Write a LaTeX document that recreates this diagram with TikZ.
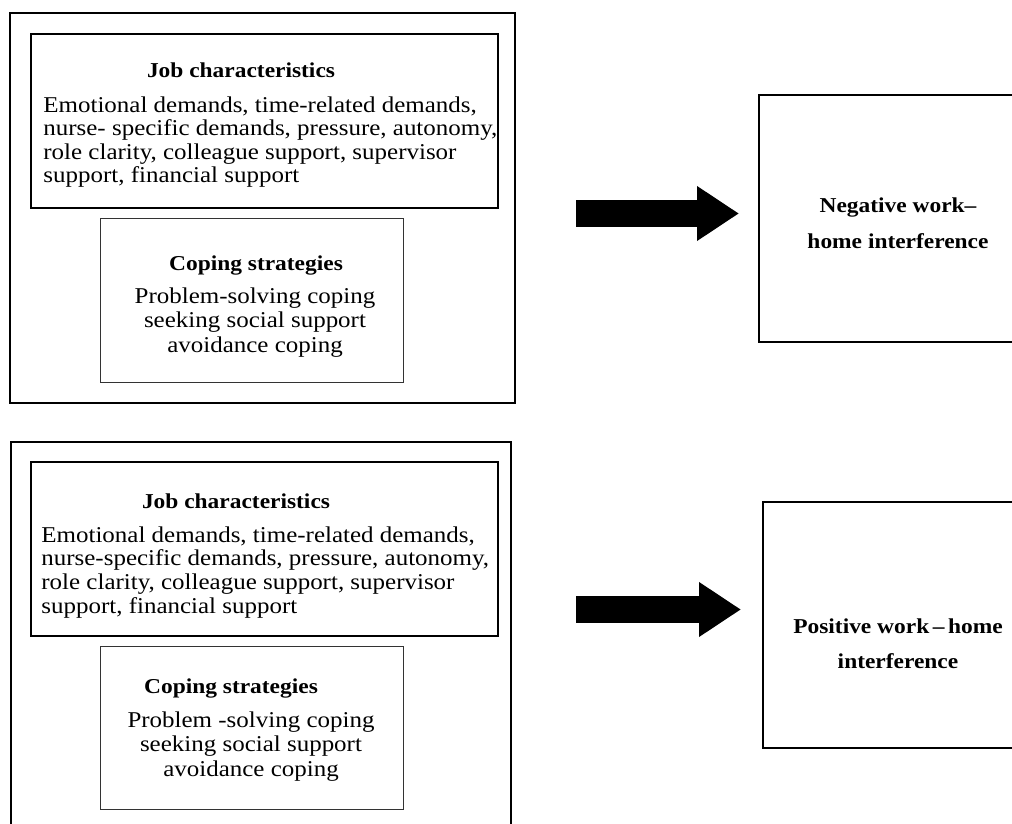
\documentclass[tikz,border=0pt]{standalone}
\usepackage{fontspec}
\setmainfont[FakeStretch=1.105]{Liberation Serif}
\usetikzlibrary{arrows.meta,fit}

\begin{document}
\begin{tikzpicture}[x=0.5pt,y=-0.5pt,
    panel/.style={draw,line width=1pt,inner sep=0pt},
    jobbox/.style={draw,line width=0.7pt,inner sep=0pt},
    copebox/.style={draw=black!80,line width=0.5pt,inner sep=0pt},
    outcome/.style={draw,line width=1pt,inner sep=0pt},
    heading/.style={font=\fontsize{10.6}{17.5}\selectfont\bfseries,inner sep=0pt,anchor=base,align=center},
    body/.style={font=\fontsize{11.3}{11.8}\selectfont,inner sep=0pt,anchor=base west,align=left},
    copelist/.style={font=\fontsize{11.3}{12.2}\selectfont,inner sep=0pt,anchor=base,align=center},
    bigarrow/.style={line width=13.5pt,-{Triangle[width=26pt,length=21pt]}}]
  \clip (0,0) rectangle (1012,824);

  % negative work-home interference (multi-line texts sit on their last baseline)
  \node[panel,fit={(10,13) (515,403)}] (negpanel) {};
  \node[jobbox,fit={(31,34) (498,208)}] (negjob) {};
  \node[copebox,fit={(100,218) (403,382)}] (negcope) {};
  \node[outcome,fit={(759,95) (1037,342)}] (negout) {};
  \node[heading] (negjobtitle) at (241,78) {Job characteristics};
  \node[body] (negjobtext) at (43,183) {Emotional demands, time-related demands,\\
    nurse- specific demands, pressure, autonomy,\\
    role clarity, colleague support, supervisor\\
    support, financial support};
  \node[heading] (negcopetitle) at (256,270) {Coping strategies};
  \node[copelist] (negcopetext) at (255,352) {Problem-solving coping\\
    seeking social support\\
    avoidance coping};
  \node[heading] (negouttext) at (898,248) {Negative work--\\home interference};
  \draw[bigarrow,shorten <=30pt,shorten >=9.5pt] (negpanel.east |- 0,213.5) -- (negout.west |- 0,213.5);

  % positive work-home interference
  \node[panel,fit={(11,442) (511,850)}] (pospanel) {};
  \node[jobbox,fit={(31,462) (498,636)}] (posjob) {};
  \node[copebox,fit={(100,646) (403,809)}] (poscope) {};
  \node[outcome,fit={(763,502) (1037,748)}] (posout) {};
  \node[heading] (posjobtitle) at (236,508) {Job characteristics};
  \node[body] (posjobtext) at (41,613) {Emotional demands, time-related demands,\\
    nurse-specific demands, pressure, autonomy,\\
    role clarity, colleague support, supervisor\\
    support, financial support};
  \node[heading] (poscopetitle) at (231,693) {Coping strategies};
  \node[copelist] (poscopetext) at (251,776) {Problem -solving coping\\
    seeking social support\\
    avoidance coping};
  \node[heading] (posouttext) at (898,668) {Positive work\,--\,home\\interference};
  \draw[bigarrow,shorten <=32pt,shorten >=10.5pt] (pospanel.east |- 0,609.5) -- (posout.west |- 0,609.5);
\end{tikzpicture}
\end{document}
